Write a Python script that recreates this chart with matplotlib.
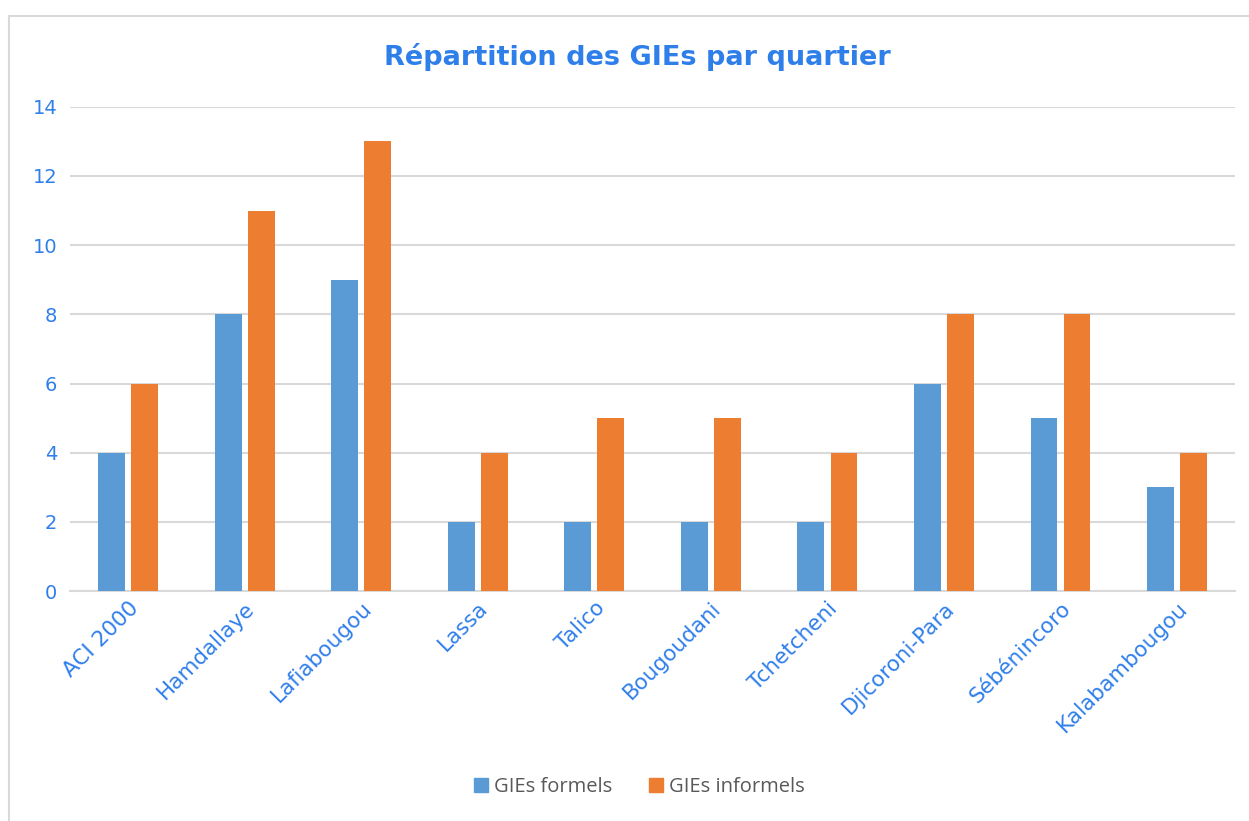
import matplotlib.pyplot as plt
from matplotlib.patches import Rectangle, Patch
import numpy as np

quartiers = ['ACI 2000', 'Hamdallaye', 'Lafiabougou', 'Lassa', 'Talico',
             'Bougoudani', 'Tchetcheni', 'Djicoroni-Para', 'Sébénincoro', 'Kalabambougou']
formels = [4, 8, 9, 2, 2, 2, 2, 6, 5, 3]
informels = [6, 11, 13, 4, 5, 5, 4, 8, 8, 4]
yticks = [0, 2, 4, 6, 8, 10, 12, 14]

blue = '#5B9BD5'
orange = '#ED7D31'
label_blue = '#2F7FEA'
grid_grey = '#D9D9D9'

fig = plt.figure(figsize=(12.49, 8.21), dpi=100)
ax = fig.add_axes([0.056, 0.280, 0.933, 0.590])

# outer chart border, like the spreadsheet frame
fig.patches.append(Rectangle((0.007, -0.01), 1.0, 0.99, transform=fig.transFigure,
                             fill=False, edgecolor='#D9D9D9', linewidth=1.5))

x = np.arange(len(quartiers))
w = 0.23
ax.bar(x - 0.142, formels, w, color=blue, zorder=3)
ax.bar(x + 0.142, informels, w, color=orange, zorder=3)

ax.set_xlim(-0.5, len(quartiers) - 0.5)
ax.set_ylim(0, 14)
ax.set_yticks(yticks)
ax.yaxis.grid(True, color=grid_grey, linewidth=1.5, zorder=0)
for s in ['top', 'right', 'left']:
    ax.spines[s].set_visible(False)
ax.spines['bottom'].set_color(grid_grey)
ax.spines['bottom'].set_linewidth(1.5)
ax.tick_params(axis='both', length=0, colors=label_blue, labelsize=14)
ax.tick_params(axis='y', pad=9)
ax.tick_params(axis='x', pad=5)
ax.set_xticks(x)
ax.set_xticklabels(quartiers, rotation=45, ha='right', rotation_mode='anchor',
                   family='DejaVu Sans', fontsize=15.5)
for lbl in ax.get_yticklabels():
    lbl.set_family('DejaVu Sans')

fig.text(0.51, 0.930, 'Répartition des GIEs par quartier', ha='center', va='center',
         fontsize=19.5, fontweight='bold', color=label_blue, family='DejaVu Sans')

handles = [Patch(color=blue, label='GIEs formels'), Patch(color=orange, label='GIEs informels')]
leg = fig.legend(handles=handles, loc='center', bbox_to_anchor=(0.512, 0.041), ncol=2,
                 frameon=False, handlelength=0.7, handleheight=0.7,
                 handletextpad=0.3, columnspacing=1.8, prop={'family': 'Open Sans', 'size': 14.5})
for t in leg.get_texts():
    t.set_color('#595959')

fig.savefig('out.png', dpi=100)
